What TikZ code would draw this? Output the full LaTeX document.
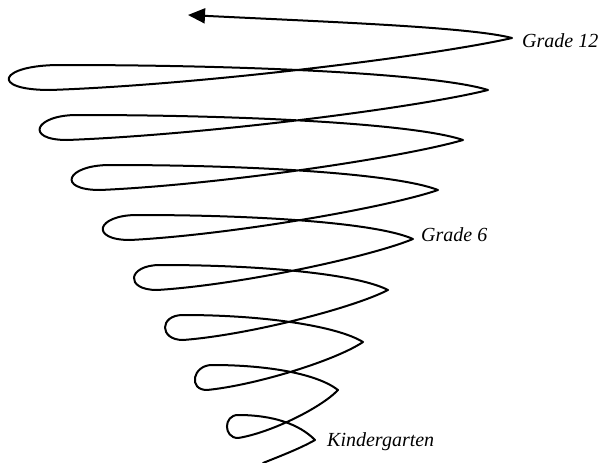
\documentclass[tikz,border=0pt]{standalone}
\usepackage{fontspec}
\setmainfont{Liberation Serif}
\usetikzlibrary{arrows.meta,calc}
\begin{document}
\begin{tikzpicture}[x=1pt,y=-1pt,
  coil/.style={line width=2pt, line join=round, line cap=round},
  lbl/.style={font=\fontsize{20}{24}\selectfont\itshape, inner sep=0pt, anchor=base west}]
\useasboundingbox (0,0) rectangle (603,463);
% arrow end and right-hand tips
\coordinate (A)  at (188,15);
\coordinate (R0) at (512,38);
\coordinate (R1) at (488,90);
\coordinate (R2) at (463,140);
\coordinate (R3) at (438,190);
\coordinate (R4) at (413,239);
\coordinate (R5) at (388,290);
\coordinate (R6) at (363,342);
\coordinate (R7) at (338,390);
\coordinate (R8) at (315,440);
\coordinate (S)  at (263,463);
% loop tops and bottoms
\coordinate (T1) at (60,65);   \coordinate (B1) at (50,90);
\coordinate (T2) at (77,115);  \coordinate (B2) at (67,140);
\coordinate (T3) at (110,165); \coordinate (B3) at (100,190);
\coordinate (T4) at (137,215); \coordinate (B4) at (130,240);
\coordinate (T5) at (160,265); \coordinate (B5) at (157,290);
\coordinate (T6) at (183,315); \coordinate (B6) at (183,340);
\coordinate (T7) at (212,365); \coordinate (B7) at (207,390);
\coordinate (T8) at (238,415); \coordinate (B8) at (238,438);

\draw[coil,-{Triangle[length=17pt,width=15pt]}]
  (S) .. controls ($(S)+(20,-8)$) and ($(R8)+(-14,8)$) .. (R8)
  % loop 8
  .. controls ($(R8)+(-15.7,-16)$) and ($(T8)+(34.7,0)$) .. (T8)
  .. controls ($(T8)+(-14.7,0)$) and ($(B8)+(-14.7,0)$) .. (B8)
  .. controls ($(B8)+(32,-5)$) and ($(R7)+(-17,18)$) .. (R7)
  % loop 7
  .. controls ($(R7)+(-20.6,-16)$) and ($(T7)+(56.7,0)$) .. (T7)
  .. controls ($(T7)+(-19.3,0)$) and ($(B7)+(-19.3,0)$) .. (B7)
  .. controls ($(B7)+(49.9,-5)$) and ($(R6)+(-26.5,18)$) .. (R6)
  % loop 6
  .. controls ($(R6)+(-26,-16)$) and ($(T6)+(81,0)$) .. (T6)
  .. controls ($(T6)+(-24,0)$) and ($(B6)+(-24,0)$) .. (B6)
  .. controls ($(B6)+(65.6,-5)$) and ($(R5)+(-34.9,18)$) .. (R5)
  % loop 5
  .. controls ($(R5)+(-30.8,-16)$) and ($(T5)+(102.6,0)$) .. (T5)
  .. controls ($(T5)+(-32.7,0)$) and ($(B5)+(-32.7,0)$) .. (B5)
  .. controls ($(B5)+(81.9,-5)$) and ($(R4)+(-43.5,18)$) .. (R4)
  % loop 4
  .. controls ($(R4)+(-35.6,-16)$) and ($(T4)+(124.2,0)$) .. (T4)
  .. controls ($(T4)+(-40.7,0)$) and ($(B4)+(-40.7,0)$) .. (B4)
  .. controls ($(B4)+(98.6,-5)$) and ($(R3)+(-52.4,18)$) .. (R3)
  % loop 3
  .. controls ($(R3)+(-40.8,-16)$) and ($(T3)+(147.6,0)$) .. (T3)
  .. controls ($(T3)+(-44,0)$) and ($(B3)+(-44,0)$) .. (B3)
  .. controls ($(B3)+(116.2,-5)$) and ($(R2)+(-61.7,18)$) .. (R2)
  % loop 2
  .. controls ($(R2)+(-46.6,-16)$) and ($(T2)+(173.7,0)$) .. (T2)
  .. controls ($(T2)+(-42.7,0)$) and ($(B2)+(-42.7,0)$) .. (B2)
  .. controls ($(B2)+(134.7,-5)$) and ($(R1)+(-71.6,18)$) .. (R1)
  % loop 1
  .. controls ($(R1)+(-50.8,-16)$) and ($(T1)+(192.6,0)$) .. (T1)
  .. controls ($(T1)+(-61.3,0)$) and ($(B1)+(-61.3,0)$) .. (B1)
  .. controls ($(B1)+(147.8,-5)$) and ($(R0)+(-78.5,18)$) .. (R0)
  % top run to the arrow
  .. controls ($(R0)+(-42,-11)$) and ($(A)+(142,7)$) .. (A);

\node[lbl] (g12) at (522,47) {Grade 12};
\node[lbl] (g6)  at (421,241) {Grade 6};
\node[lbl] (kg)  at (327,446) {Kindergarten};
\end{tikzpicture}
\end{document}
